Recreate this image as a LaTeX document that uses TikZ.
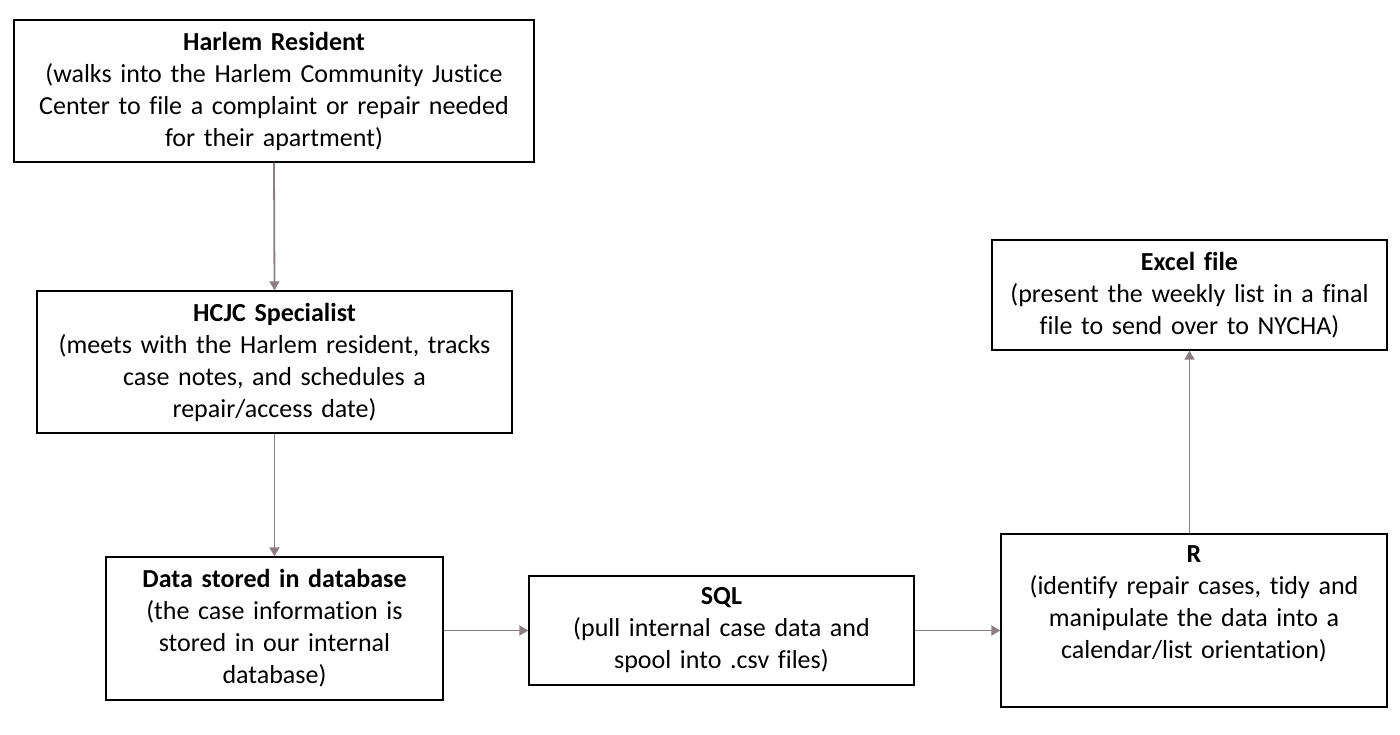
\documentclass[tikz,border=0pt]{standalone}
\usepackage{fontspec}
\setmainfont[Ligatures=NoCommon]{Carlito}
\usepackage{tikz}
\usetikzlibrary{arrows.meta, positioning}
\usepackage{xcolor}
\definecolor{flowgray}{HTML}{8C7F84}

\begin{document}
\begin{tikzpicture}[
    x=1pt, y=-1pt,
    block/.style={draw, line width=1.3pt, align=center, inner sep=5pt,
                  font=\fontsize{26}{32}\selectfont},
    arrow/.style={-{Triangle[length=9pt, width=10pt]}, line width=1.8pt, draw=flowgray, fill=flowgray}
]
\useasboundingbox (0,0) rectangle (1400,735);

% Left column
\node[block, text width=510pt, minimum height=142pt] (resident) at (274,91)
    {\textbf{Harlem Resident}\\(walks into the Harlem Community Justice\\Center to file a complaint or repair needed\\for their apartment)};
\node[block, text width=465pt, minimum height=142pt] (specialist) at (274.5,362)
    {\textbf{HCJC Specialist}\\(meets with the Harlem resident, tracks\\case notes, and schedules a\\repair/access date)};
\node[block, text width=327pt, minimum height=143pt] (database) at (274.5,628.5)
    {\textbf{Data stored in database}\\(the case information is\\stored in our internal\\database)};

% Bottom row
\node[block, text width=375pt, minimum height=109pt] (sql) at (721.5,630.5)
    {\textbf{SQL}\\(pull internal case data and\\spool into .csv files)};
\node[block, text width=376pt, minimum height=173pt] (rtool) at (1194,620.5)
    {\textbf{R}\\(identify repair cases, tidy and\\manipulate the data into a\\calendar/list orientation)\\[4pt]\mbox{}};

% Output
\node[block, text width=385pt, minimum height=110pt] (excel) at (1189.5,295)
    {\textbf{Excel file}\\(present the weekly list in a final\\file to send over to NYCHA)};

% Arrows
\draw[arrow] (resident.south) -- (specialist.north);
\draw[arrow] (specialist.south) -- (database.north);
\draw[arrow] (database.east |- sql.west) -- (sql.west);
\draw[arrow] (sql.east) -- (rtool.west |- sql.east);
\draw[arrow] (rtool.north -| excel.south) -- (excel.south);

\end{tikzpicture}
\end{document}
